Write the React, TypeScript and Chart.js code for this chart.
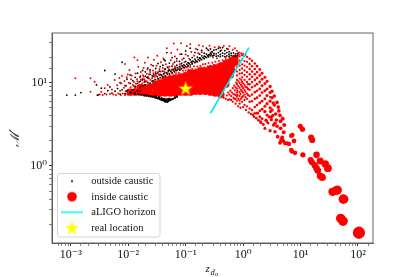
import React, { useEffect, useRef } from "react";
import { Chart, registerables } from "chart.js";

Chart.register(...registerables);

type P = [number, number];

const xTickLabels: Record<string, string> = { "0.001": "10⁻³", "0.01": "10⁻²", "0.1": "10⁻¹", "1": "10⁰", "10": "10¹", "100": "10²" };
const yTickLabels: Record<string, string> = { "1": "10⁰", "10": "10¹" };
const legendNames = ["outside caustic", "inside caustic", "aLIGO horizon", "real location"];

const horizon: P[] = [[0.27, 4.3], [1.26, 26.3]];
const realLocation: P[] = [[0.1, 8.57]];

const outsideChain: P[] = [
  [0.011, 7.6], [0.013, 7.4], [0.015, 7.3], [0.017, 7.2], [0.019, 7.1], [0.021, 7.0], [0.023, 6.9], [0.025, 6.85], [0.027, 6.8], [0.029, 6.7],
  [0.031, 6.6], [0.033, 6.5], [0.035, 6.4], [0.037, 6.3], [0.039, 6.2], [0.041, 6.15], [0.043, 6.1], [0.045, 6.05], [0.047, 6.0], [0.049, 6.05],
  [0.051, 6.1], [0.053, 6.2], [0.056, 6.3], [0.06, 6.4], [0.065, 6.6], [0.07, 6.8], [0.042, 6.4], [0.046, 6.3], [0.05, 6.4], [0.038, 6.5],
  [0.044, 5.95], [0.048, 5.9], [0.052, 6.4], [0.034, 6.7], [0.03, 6.85],
];

const outsideCloud: P[] = [
  [0.00085, 7.1], [0.0012, 7.1], [0.0015, 7.6], [0.0029, 7.1], [0.003, 7.15], [0.0039, 14], [0.0028, 9.4], [0.0034, 8.6], [0.0059, 12.7], [0.0078, 17.6], [0.047, 23], [0.042, 18.8],
  [0.0039, 7.4], [0.0044, 8.0], [0.0048, 8.9], [0.0052, 7.5], [0.0059, 7.9], [0.0065, 8.5], [0.0072, 7.3], [0.0072, 10], [0.0078, 8.2], [0.0088, 7.4], [0.0088, 9.2], [0.0095, 11], [0.0095, 8.0],
  [0.0108, 7.7], [0.0108, 9.8], [0.0108, 12.4], [0.012, 8.2], [0.012, 10.6], [0.0132, 7.6], [0.0132, 9], [0.0132, 11.6], [0.0145, 8], [0.0145, 9.8], [0.0145, 13], [0.0162, 7.9], [0.0162, 8.8],
  [0.0162, 10.4], [0.0162, 12], [0.0178, 9.2], [0.0178, 11], [0.0178, 14], [0.0198, 9.4], [0.0198, 12], [0.0198, 13.5], [0.022, 10], [0.022, 11.4], [0.022, 15], [0.024, 9.9], [0.024, 12.6],
  [0.024, 14.2], [0.027, 10.6], [0.027, 11.9], [0.027, 16], [0.03, 10.9], [0.03, 12.8], [0.03, 14.8], [0.033, 11.2], [0.033, 13.4], [0.033, 17], [0.036, 11.5], [0.036, 12.6], [0.036, 15.6],
  [0.04, 11.8], [0.04, 13.8], [0.04, 16.2], [0.044, 12.1], [0.044, 14.6], [0.044, 18.4], [0.048, 12.6], [0.048, 15.4], [0.052, 12.8], [0.052, 14.2], [0.052, 17.2], [0.058, 13.2], [0.058, 15.8],
  [0.058, 20], [0.064, 13.5], [0.064, 14.8], [0.064, 17.6], [0.07, 14], [0.07, 16.2], [0.07, 19.5], [0.078, 14.3], [0.078, 15.6], [0.078, 18], [0.085, 14.7], [0.085, 17], [0.085, 22], [0.093, 15.2],
  [0.093, 16.4], [0.093, 19.6], [0.1, 15.6], [0.1, 18], [0.1, 24], [0.11, 16], [0.11, 17.4], [0.11, 21], [0.12, 16.4], [0.12, 18.8], [0.12, 26], [0.13, 16.8], [0.13, 18.2], [0.13, 20], [0.145, 17.4],
  [0.145, 19.2], [0.145, 23], [0.16, 17.8], [0.16, 20.2], [0.16, 25], [0.175, 18.4], [0.175, 19.8], [0.175, 22], [0.19, 19], [0.19, 21], [0.19, 24.4], [0.21, 19.4], [0.21, 20.8], [0.21, 22.6],
  [0.23, 20], [0.23, 22], [0.23, 26], [0.25, 20.4], [0.25, 21.6], [0.25, 24.4], [0.27, 21], [0.27, 22.6], [0.27, 25.4], [0.29, 21], [0.29, 23.4], [0.31, 21.4], [0.31, 22.4], [0.31, 24.6], [0.34, 20.8],
  [0.34, 22.2], [0.34, 25], [0.37, 21], [0.37, 23], [0.37, 25.8], [0.4, 20.6], [0.4, 21.8], [0.4, 24], [0.4, 26.2], [0.44, 21], [0.44, 22.6], [0.44, 26.4], [0.48, 20.6], [0.48, 22.2], [0.48, 24.2],
  [0.52, 21], [0.52, 23], [0.52, 25.6], [0.57, 20.8], [0.57, 22], [0.57, 23.6], [0.62, 21.2], [0.62, 22.6], [0.68, 21], [0.68, 22.8], [0.74, 20.8], [0.74, 22.2], [0.8, 21.2], [0.8, 22.4], [2.95, 6.75],
  [0.019, 10.2], [0.021, 11.6], [0.026, 10.4], [0.028, 12.4], [0.032, 11.8], [0.035, 13.8], [0.038, 12.2], [0.042, 12.9], [0.046, 13.2], [0.05, 14], [0.055, 13.6], [0.06, 14.4], [0.066, 14.2], [0.072, 15.2],
  [0.08, 15.1], [0.088, 15.9], [0.096, 16], [0.105, 16.7], [0.115, 17], [0.125, 17.6], [0.138, 18], [0.15, 18.4], [0.165, 19], [0.18, 19.6], [0.2, 20], [0.22, 20.6], [0.24, 21], [0.26, 21.6], [0.28, 22],
];

const insideDense: P[] = [
  [0.0108, 7.7], [0.0132, 7.7], [0.0162, 7.7], [0.0162, 8.7], [0.0198, 7.5], [0.0198, 8.7], [0.024, 7.5], [0.024, 8.9], [0.03, 7.5], [0.03, 8.7], [0.03, 9.6],
  [0.036, 7.5], [0.036, 8.7], [0.036, 9.9], [0.044, 7.5], [0.044, 8.7], [0.044, 9.9], [0.044, 10.8], [0.054, 7.5], [0.054, 8.7], [0.054, 9.9], [0.054, 11.1],
  [0.066, 7.5], [0.066, 8.7], [0.066, 9.9], [0.066, 11.4], [0.081, 7.7], [0.081, 8.9], [0.081, 10.2], [0.081, 11.7], [0.099, 7.7], [0.099, 8.9], [0.099, 10.2], [0.099, 12.1],
  [0.121, 7.7], [0.121, 8.9], [0.121, 10.2], [0.121, 11.7], [0.121, 13.1], [0.148, 7.9], [0.148, 9.1], [0.148, 10.5], [0.148, 12.1], [0.148, 13.1],
  [0.18, 7.9], [0.18, 9.1], [0.18, 10.5], [0.18, 12.1], [0.18, 13.8], [0.22, 7.9], [0.22, 9.1], [0.22, 10.5], [0.22, 12.1], [0.22, 13.8],
  [0.27, 7.7], [0.27, 8.9], [0.27, 10.2], [0.27, 11.7], [0.27, 13.4], [0.27, 14.6], [0.33, 7.5], [0.33, 8.7], [0.33, 9.9], [0.33, 11.4], [0.33, 13.1], [0.33, 15],
  [0.41, 7.2], [0.41, 8.4], [0.41, 9.6], [0.41, 11], [0.41, 12.8], [0.41, 14.6], [0.41, 15.8], [0.5, 9.6], [0.5, 11], [0.5, 12.8], [0.5, 14.6], [0.5, 16.9],
  [0.6, 12.4], [0.63, 14.2], [0.63, 16.3], [0.63, 18.3], [0.72, 17.6], [0.72, 19.5],
];

const insideCloud: P[] = [
  [0.0012, 11.3], [0.0022, 11.3], [0.0026, 10.3], [0.0022, 7.8], [0.0034, 7.8], [0.0128, 20], [0.0145, 18.6], [0.0088, 16.8], [0.0098, 12.5], [0.0032, 7.2], [0.0036, 7.1],
  [0.0039, 8.6], [0.0042, 7.2], [0.0044, 9.4], [0.0048, 7.3], [0.0052, 8.3], [0.0055, 7.2], [0.0058, 10.8], [0.0061, 7.1], [0.0064, 9.3], [0.0067, 7.4], [0.007, 11.4], [0.0072, 8.0], [0.0074, 7.1], [0.0076, 9.8],
  [0.0078, 12], [0.008, 7.4], [0.0084, 8.7], [0.0086, 10.5], [0.0088, 7.1], [0.009, 7.9], [0.0092, 9.2], [0.0094, 11.6], [0.0098, 7.2], [0.01, 8.2], [0.0102, 10], [0.0105, 14.2], [0.0108, 7.2], [0.011, 8.8], [0.0112, 11],
  [0.0115, 12.2], [0.012, 7.6], [0.012, 9.4], [0.0122, 8.2], [0.0126, 10.2], [0.013, 8.6], [0.0134, 12.9], [0.0136, 9.7], [0.014, 8.3], [0.0142, 11], [0.0148, 9.1], [0.015, 15.5], [0.0155, 10.2], [0.016, 11.6], [0.0165, 13.4],
  [0.017, 9.3], [0.0175, 10.7], [0.018, 12.3], [0.0185, 15], [0.019, 11], [0.0195, 17.4], [0.02, 10.3], [0.021, 12.8], [0.0215, 14.4], [0.022, 20], [0.023, 11.2], [0.024, 13.4], [0.025, 16.4], [0.026, 12.2], [0.027, 14],
  [0.028, 18.8], [0.029, 11.8], [0.03, 13.4], [0.031, 16], [0.032, 21], [0.034, 12.6], [0.035, 14.6], [0.037, 17.6], [0.038, 12.4], [0.04, 15], [0.041, 19.5], [0.043, 13.4], [0.045, 16.6], [0.047, 26], [0.05, 13.6], [0.052, 15.6],
  [0.055, 18.6], [0.056, 22.8], [0.058, 14.4], [0.06, 16.8], [0.062, 29.5], [0.065, 20.6], [0.067, 15], [0.07, 18.2], [0.072, 25], [0.075, 14.6], [0.079, 16.6], [0.08, 22], [0.083, 29.8], [0.087, 19], [0.09, 15.4], [0.095, 17.6],
  [0.1, 21.8], [0.105, 27.6], [0.11, 15.8], [0.115, 19.4], [0.12, 29], [0.125, 23.4], [0.13, 17.2], [0.14, 21], [0.15, 25.5], [0.155, 18], [0.165, 22.5], [0.17, 28.2], [0.18, 19.4], [0.19, 23.2], [0.2, 27.4], [0.22, 20.4],
  [0.24, 25], [0.26, 27.8], [0.28, 23.6], [0.3, 20.2], [0.32, 26.6], [0.35, 19.6], [0.38, 27], [0.42, 24.6], [0.46, 27.6], [0.5, 19], [0.55, 25.2], [0.58, 27.4], [0.66, 24.8], [0.72, 26], [0.78, 24.2], [0.85, 23],
  [0.009, 7.3], [0.0105, 8.1], [0.0115, 7.4], [0.0125, 9.1], [0.0135, 8.9], [0.0145, 10.4], [0.0155, 9.3], [0.0165, 10.9], [0.0175, 9.8], [0.0185, 11.8], [0.0195, 10.6], [0.021, 10.4], [0.022, 11.8], [0.023, 12.6], [0.0245, 10.8],
  [0.026, 11.4], [0.0275, 13], [0.029, 10.9], [0.0305, 12.2], [0.032, 13], [0.0335, 11.1], [0.035, 12.3], [0.037, 13.6], [0.039, 11.3], [0.041, 12.6], [0.043, 14.4], [0.0455, 11.9], [0.048, 13], [0.05, 15], [0.053, 12.4],
  [0.056, 14], [0.059, 12.8], [0.062, 13.8], [0.065, 15.6], [0.068, 13], [0.072, 14.4], [0.076, 13.2], [0.08, 14.2], [0.084, 16], [0.09, 13.9], [0.095, 15], [0.1, 14], [0.105, 15.2], [0.112, 14.4], [0.12, 15.4], [0.13, 14.6], [0.14, 15.8],
  [0.15, 14.4], [0.16, 15.6], [0.17, 14.8], [0.18, 16], [0.19, 15.2], [0.2, 16.6], [0.21, 15.2], [0.22, 16.8], [0.24, 15.6], [0.25, 17.2], [0.27, 16], [0.29, 17.4], [0.31, 16.4], [0.33, 17.8], [0.36, 16.6], [0.38, 18.2], [0.41, 17.2],
  [0.44, 18.6], [0.47, 18], [0.5, 20], [0.54, 19], [0.58, 20.2], [0.64, 19.8], [0.7, 21], [0.76, 20.8], [0.84, 22], [0.92, 22.6], [1.0, 22.2], [1.1, 21.6],
];

const insideFan: P[] = [
  [0.78, 19.6], [0.78, 17.4], [0.78, 15.4], [0.78, 13.6], [0.78, 12.2], [0.78, 10.8], [0.78, 9.6], [0.78, 8.5], [0.78, 7.6], [0.78, 6.8], [0.78, 6.1],
  [0.87, 20.8], [0.87, 18.4], [0.87, 16], [0.87, 14.2], [0.87, 12.8], [0.87, 11.2], [0.87, 9.9], [0.87, 8.7], [0.87, 7.7], [0.87, 6.9], [0.87, 6.1], [0.87, 5.6],
  [0.96, 21.4], [0.96, 19], [0.96, 16.6], [0.96, 14.8], [0.96, 13], [0.96, 11.6], [0.96, 10.2], [0.96, 9], [0.96, 7.9], [0.96, 6.7], [0.96, 5.9],
  [1.06, 21], [1.06, 18.2], [1.06, 16], [1.06, 14], [1.06, 12.4], [1.06, 10.8], [1.06, 9.4], [1.06, 8.2], [1.06, 7.2], [1.06, 6.2], [1.06, 5.4],
  [1.17, 20.4], [1.17, 17.8], [1.17, 15.4], [1.17, 13.4], [1.17, 11.8], [1.17, 10.2], [1.17, 8.8], [1.17, 7.4], [1.17, 6.4], [1.17, 5.2],
  [1.3, 19.4], [1.3, 16.8], [1.3, 14.6], [1.3, 12.6], [1.3, 11], [1.3, 9.6], [1.3, 8.2], [1.3, 6.9], [1.3, 5.9], [1.3, 4.9],
  [1.43, 18.4], [1.43, 15.8], [1.43, 13.6], [1.43, 11.8], [1.43, 10.2], [1.43, 8.8], [1.43, 7.2], [1.43, 6], [1.43, 4.7],
  [1.6, 17], [1.6, 14.6], [1.6, 12.6], [1.6, 10.8], [1.6, 9.2], [1.6, 7.7], [1.6, 6.4], [1.6, 5.1], [1.6, 4.3],
  [1.75, 15.8], [1.75, 13.4], [1.75, 11.4], [1.75, 9.6], [1.75, 8], [1.75, 6.6], [1.75, 5.4], [1.75, 4.3],
  [1.95, 14.4], [1.95, 12.2], [1.95, 10.2], [1.95, 8.4], [1.95, 7], [1.95, 5.7], [1.95, 4.6], [1.95, 3.9],
  [2.14, 13], [2.14, 11], [2.14, 9.2], [2.14, 7.6], [2.14, 6], [2.14, 4.8], [2.14, 3.7],
  [2.4, 11.6], [2.4, 9.8], [2.4, 8], [2.4, 6.4], [2.4, 5.2], [2.4, 4.5],
  [2.61, 10.4], [2.61, 8.4], [2.61, 7], [2.61, 5.6], [2.61, 4.1],
  [2.95, 9], [2.95, 7.6], [2.95, 6], [2.95, 5], [3.19, 7.9], [3.19, 6.6], [3.19, 4.7], [3.5, 6.9], [3.5, 5.4], [3.9, 5.8], [4.2, 4.6],
  [1.5, 4.1], [1.8, 4.3], [2.4, 4.5], [3, 4.5],
  [0.58, 6.3], [0.62, 6.9], [0.66, 5.9], [0.68, 7.3], [0.7, 6.4], [0.72, 8.1], [0.74, 5.6], [0.75, 7.1], [0.82, 5.2], [0.9, 5.0], [1.0, 5.1], [1.12, 4.7], [1.25, 4.4], [1.38, 4.2], [1.55, 3.9], [1.7, 3.75], [1.85, 3.55],
  [2.05, 3.3], [2.25, 3.15], [2.5, 3.55], [2.7, 3.3], [2.85, 3.9], [3.1, 3.6], [3.3, 4.05], [3.35, 5.7], [3.7, 4.2], [4.1, 5.1], [4.4, 4.05], [4.5, 3.45], [4.9, 3.7], [5.2, 3.1],
  [0.46, 6.6], [0.5, 6.4], [0.52, 7.0], [0.55, 6.2], [0.55, 7.6], [0.58, 7.2], [0.6, 8.0], [0.62, 6.2], [0.64, 7.6], [0.66, 8.6], [0.68, 6.6], [0.7, 9.2], [0.72, 7.2], [0.74, 8.8], [0.74, 6.4], [0.76, 10],
  [0.8, 7.1], [0.8, 8.0], [0.82, 9.1], [0.83, 6.4], [0.83, 10.4], [0.9, 7.3], [0.91, 8.2], [0.92, 9.4], [0.92, 6.4], [0.93, 10.8], [1.0, 7.6], [1.0, 8.6], [1.0, 9.8], [1.0, 6.9], [1.1, 7.8], [1.1, 8.9], [1.1, 6.7],
  [1.22, 8.4], [1.22, 7.1], [1.22, 9.6],
];

const insideTail: P[] = [
  [104, 0.158], [50, 0.235], [55, 0.218], [56, 0.4], [36, 0.49], [44, 0.515], [41, 0.505], [24, 0.73], [22, 0.76], [30, 0.94], [27, 1.06], [22, 1.15], [19, 1.36], [19, 0.94], [20, 0.88], [17.7, 1.02], [15, 1.18], [15.8, 1.11],
  [11, 1.36], [8, 1.44], [6.9, 1.56], [7.1, 1.49], [7.7, 2.0], [6.3, 1.84], [5.4, 1.87], [4.4, 1.9], [5.0, 2.0], [4.8, 2.2], [6.9, 2.3], [7.2, 2.35], [5.1, 2.54], [16, 2.05], [15.3, 2.2], [10.8, 2.76], [9.9, 3.0],
  [4.5, 2.83], [3.9, 3.0], [3.6, 3.25], [3.8, 3.57], [3.1, 3.85], [2.55, 3.5], [2.0, 3.4], [2.4, 2.83], [2.95, 2.65], [3.6, 2.58], [4.0, 2.25], [3.4, 3.1], [4.6, 2.05], [5.9, 1.87],
];

const toXY = (pts: P[]) => pts.map(([x, y]) => ({ x, y }));
const serif = "'Liberation Serif', 'DejaVu Serif', serif";

function marker(size: number, paint: (c: CanvasRenderingContext2D, s: number) => void) {
  const cv = document.createElement("canvas");
  cv.width = size;
  cv.height = size;
  paint(cv.getContext("2d")!, size);
  return cv;
}

function starPath(c: CanvasRenderingContext2D, s: number) {
  const R = s / 2;
  const r = R * 0.382;
  c.beginPath();
  for (let i = 0; i < 10; i++) {
    const a = -Math.PI / 2 + (i * Math.PI) / 5;
    const d = i % 2 ? r : R;
    c.lineTo(R + d * Math.cos(a), R + 0.6 + d * Math.sin(a));
  }
  c.closePath();
  c.fillStyle = "#ffff00";
  c.fill();
}

const sizeByZ = (z: number) => Math.max(1.15, 1.1 * Math.pow(z, 0.37));

export default function App() {
  const ref = useRef<HTMLCanvasElement>(null);
  useEffect(() => {
    const dot = marker(4, (c) => { c.fillStyle = "#000"; c.beginPath(); c.arc(2, 2, 1, 0, 7); c.fill(); });
    const disc = marker(12, (c) => { c.fillStyle = "#ff0000"; c.beginPath(); c.arc(6, 6, 4.8, 0, 7); c.fill(); });
    const dash = marker(24, (c) => { c.fillStyle = "#00ffff"; c.fillRect(1, 11.2, 22, 1.6); });
    const star = marker(15, starPath);

    const frame = {
      id: "frame",
      beforeDraw(ch: any) {
        ch.legend.bottom = 238;
        ch.legend.left = 53;
        const c = ch.ctx;
        c.save();
        c.strokeStyle = "#d5d5d5";
        c.lineWidth = 1;
        c.beginPath();
        c.roundRect(57.5, 173.5, 102.5, 63.5, 2.5);
        c.stroke();
        c.restore();
      },
      afterDraw(ch: any) {
        const { left, top, right, bottom } = ch.chartArea;
        const c = ch.ctx;
        c.save();
        c.strokeStyle = "#555";
        c.lineWidth = 0.9;
        c.strokeRect(left, top, right - left, bottom - top);
        c.fillStyle = "#111";
        c.textBaseline = "alphabetic";
        c.font = `italic 11px ${serif}`;
        c.fillText("z", 205.5, 272);
        c.font = `italic 8.5px ${serif}`;
        c.fillText("d", 210.5, 274.5);
        c.font = `italic 6.5px ${serif}`;
        c.fillText("o", 215, 276);
        c.restore();
      },
    };

    const chart = new Chart(ref.current!, {
      type: "scatter",
      plugins: [frame],
      data: {
        // Chart.js paints the first dataset last, so the top-most marks come first.
        datasets: [
          { label: "real location", data: toXY(realLocation), pointStyle: star, pointRadius: 7.5 },
          { label: "aLIGO horizon", type: "line", data: toXY(horizon), borderColor: "#00e8ee", borderWidth: 1.6, pointRadius: 0, showLine: true },
          { label: "inside tail", data: toXY(insideTail), backgroundColor: "#ff0000", pointRadius: (ctx: any) => sizeByZ(ctx.raw.x), pointBorderWidth: 0 },
          { label: "inside fan", data: toXY(insideFan), backgroundColor: "#ff0000", pointRadius: (ctx: any) => sizeByZ(ctx.raw.x), pointBorderWidth: 0 },
          { label: "outside chain", data: toXY(outsideChain), backgroundColor: "#000", pointRadius: 1.2, pointBorderWidth: 0 },
          { label: "outside cloud", data: toXY(outsideCloud), backgroundColor: "#000", pointRadius: 0.9, pointBorderWidth: 0 },
          { label: "inside cloud", data: toXY(insideCloud), backgroundColor: "#ff0000", pointRadius: 1, pointBorderWidth: 0 },
          { label: "inside dense", data: toXY(insideDense), backgroundColor: "#ff0000", pointRadius: 3.7, pointBorderWidth: 0 },
        ] as any,
      },
      options: {
        responsive: false,
        animation: false,
        layout: { padding: { top: 33, right: 42, left: 0, bottom: 0 } },
        scales: {
          x: {
            type: "logarithmic",
            min: 0.00047,
            max: 183,
            afterFit: (s: any) => { s.height = 34; },
            afterBuildTicks: (s: any) => { s.ticks = s.ticks.filter((t: any) => t.value !== s.min && t.value !== s.max); },
            border: { color: "#555", width: 0.9 },
            grid: { drawOnChartArea: false, tickLength: 3, tickColor: "#333", tickWidth: (c: any) => (c.tick?.major ? 1 : 0.6) },
            ticks: {
              autoSkip: false,
              maxRotation: 0,
              padding: 2,
              color: "#111",
              font: { family: serif, size: 12 },
              callback: (v: any) => xTickLabels[String(v)] ?? "",
            },
          },
          y: {
            type: "logarithmic",
            min: 0.119,
            max: 39.5,
            afterFit: (s: any) => { s.width = 52; },
            afterBuildTicks: (s: any) => { s.ticks = s.ticks.filter((t: any) => t.value !== s.min && t.value !== s.max); },
            border: { color: "#555", width: 0.9 },
            grid: { drawOnChartArea: false, tickLength: 3, tickColor: "#333", tickWidth: (c: any) => (c.tick?.major ? 1 : 0.6) },
            title: { display: true, text: "ℳ′", color: "#222", padding: { top: 8, bottom: 0 }, font: { family: "'DejaVu Serif', serif", size: 13, style: "italic" } },
            ticks: {
              autoSkip: false,
              padding: 2,
              color: "#111",
              font: { family: serif, size: 12 },
              callback: (v: any) => yTickLabels[String(v)] ?? "",
            },
          },
        },
        plugins: {
          tooltip: { enabled: false },
          legend: {
            position: "chartArea" as any,
            align: "end",
            labels: {
              usePointStyle: true,
              pointStyleWidth: 28,
              padding: 5,
              color: "#111",
              font: { family: serif, size: 10.5 },
              generateLabels: () => [dot, disc, dash, star].map((pointStyle, i) => ({
                text: legendNames[i], pointStyle, fontColor: "#111", lineWidth: 0, hidden: false, strokeStyle: "transparent", fillStyle: "transparent",
              })) as any,
            },
          },
        },
      } as any,
    });
    return () => chart.destroy();
  }, []);
  return (
    <div style={{ position: "fixed", left: 0, top: 0, width: 415, height: 277, background: "#fff" }}>
      <canvas ref={ref} width={415} height={277} style={{ display: "block" }} />
    </div>
  );
}
